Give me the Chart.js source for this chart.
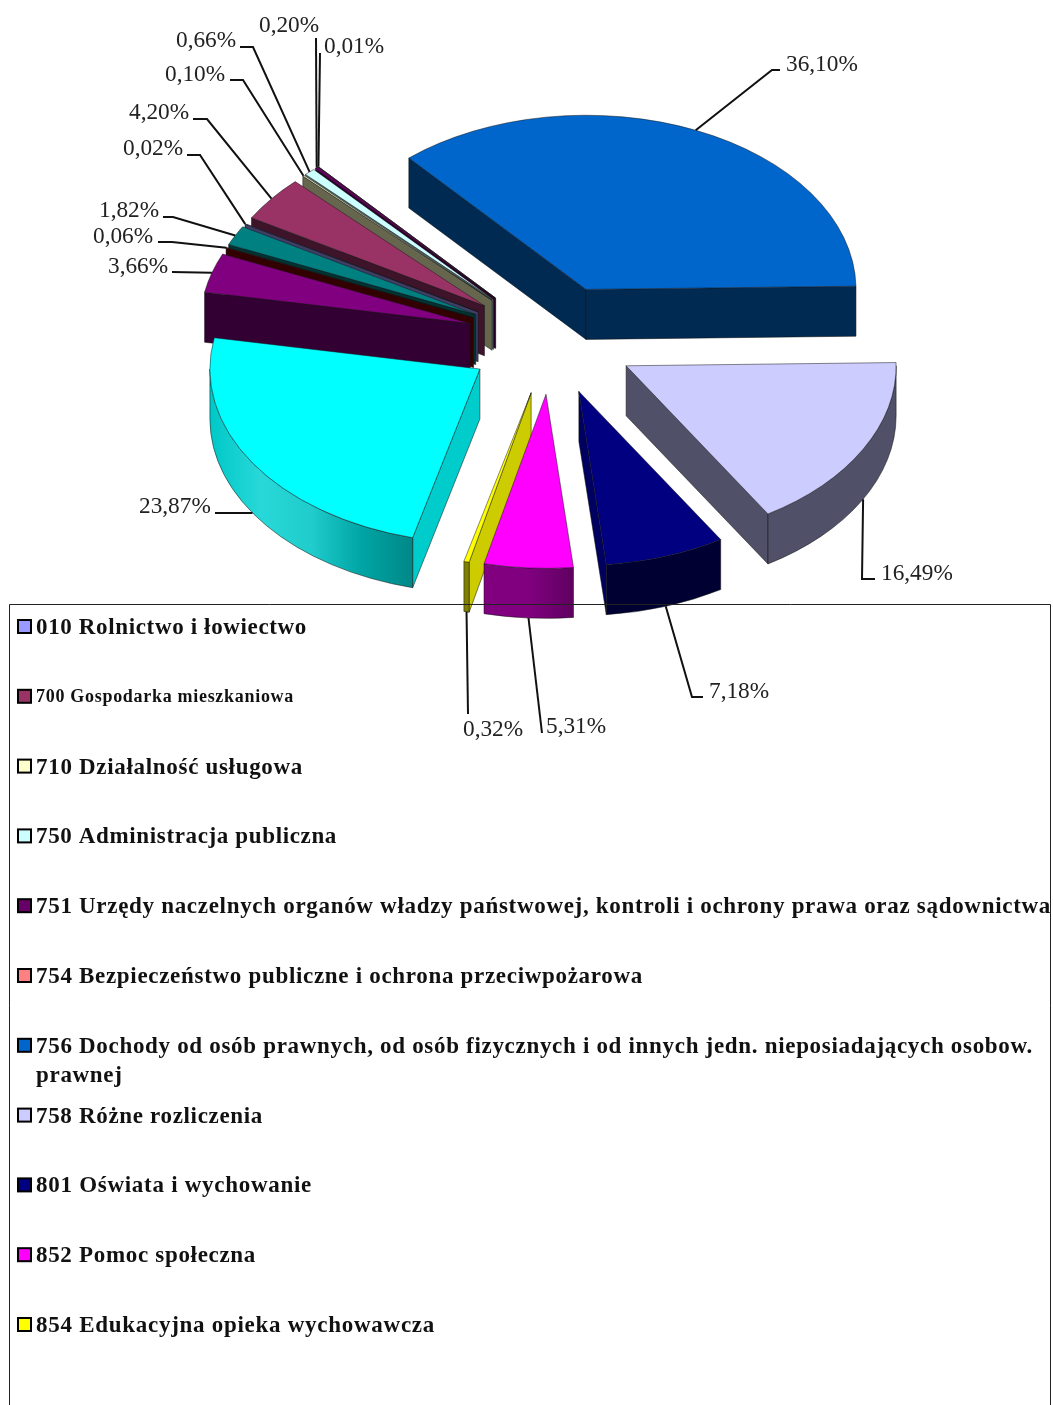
<!DOCTYPE html>
<html lang="pl">
<head>
<meta charset="utf-8">
<title>Struktura</title>
<style>html,body{margin:0;padding:0;background:#fff}canvas{display:block}</style>
<script src="https://cdn.jsdelivr.net/npm/chart.js@4"></script>
</head>
<body>
<canvas id="c" width="1053" height="1405"></canvas>
<script>
const categories = ['010 Rolnictwo i łowiectwo','700 Gospodarka mieszkaniowa','710 Działalność usługowa','750 Administracja publiczna','751 Urzędy naczelnych organów władzy państwowej, kontroli i ochrony prawa oraz sądownictwa','754 Bezpieczeństwo publiczne i ochrona przeciwpożarowa','756 Dochody od osób prawnych, od osób fizycznych i od innych jedn. nieposiadających osobow.\nprawnej','758 Różne rozliczenia','801 Oświata i wychowanie','852 Pomoc społeczna','854 Edukacyjna opieka wychowawcza','','','',''];
const values = [0.02,4.20,0.10,0.66,0.20,0.01,36.10,16.49,7.18,5.31,0.32,23.87,3.66,0.06,1.82];
const topColors = ['#9999FF','#993366','#FFFFCC','#CCFFFF','#660066','#FF8080','#0066CC','#CCCCFF','#000080','#FF00FF','#FFFF00','#00FFFF','#800080','#800000','#008080'];
const wallColors = ['#3d3d66','#3d1429','#66664f','#526666','#290029','#663333','#002a52','#505068','#000060','#600060','#cccc00','#00cccc','#330033','#330000','#003333'];
const rimColors = [['#3d3d66'],['#3d1429'],['#66664f'],['#526666'],['#290029'],['#663333'],['#002a52'],['#505068'],['#000033'],['#800080','#800080','#600060'],['#808000'],['#00c8c8','#28d8d8','#20cccc','#00a4a4','#008888'],['#330033'],['#330000'],['#003333']];

// Leader elbows and label anchors, in data order
const leaderLayout = [
  {pts:[[200,155],[187,155]],tx:123,ty:155},
  {pts:[[207,119],[193,119]],tx:129,ty:119},
  {pts:[[243,80],[230,80]],tx:165,ty:81},
  {pts:[[253,47],[240,47]],tx:176,ty:47},
  {pts:[[316,38]],tx:259,ty:32},
  {pts:[[320,53]],tx:324,ty:53},
  {pts:[[772,70],[780,70]],tx:786,ty:71},
  {pts:[[862,579],[875,579]],tx:881,ty:580},
  {pts:[[692,697],[703,697]],tx:709,ty:698},
  {pts:[[542,733]],tx:546,ty:733},
  {pts:[[468,714]],tx:463,ty:736},
  {pts:[[215,513]],tx:139,ty:513},
  {pts:[[172,272]],tx:108,ty:273},
  {pts:[[172,242],[158,242]],tx:93,ty:243},
  {pts:[[173,217],[163,217]],tx:99,ty:217}
];
const FLAT = 0.645, DEPTH = 50, EXPLODE = 85;
const legendFonts = [23,18,23,23,23,23,23,23,23,23,23];
const legendWidths = [271,258,267,301,1015,607,997,227,276,220,399];
const fmt = v => v.toFixed(2).replace('.', ',') + '%';

function geom(arc){
  const p = arc.getProps(['x','y','startAngle','endAngle','outerRadius'], true);
  const mid = (p.startAngle + p.endAngle) / 2;
  return {a:p.startAngle, b:p.endAngle, mid, r:p.outerRadius,
    ax:p.x + Math.cos(mid)*EXPLODE, ay:p.y + Math.sin(mid)*EXPLODE*FLAT, x:p.x, y:p.y};
}
function wall(ctx, g, ang, color){
  const ex = g.ax + Math.cos(ang)*g.r, ey = g.ay + Math.sin(ang)*g.r*FLAT;
  ctx.beginPath(); ctx.moveTo(g.ax,g.ay); ctx.lineTo(ex,ey); ctx.lineTo(ex,ey+DEPTH); ctx.lineTo(g.ax,g.ay+DEPTH); ctx.closePath();
  ctx.fillStyle = color; ctx.fill(); ctx.stroke();
}
function rim(ctx, g, colors){
  let a = g.a, b = g.b;
  const k = Math.floor(a/(2*Math.PI));
  a -= k*2*Math.PI; b -= k*2*Math.PI;
  const segs = [[Math.max(a,0),Math.min(b,Math.PI)],[Math.max(a,2*Math.PI),Math.min(b,3*Math.PI)]];
  segs.forEach(([s,e])=>{
    if (e<=s) return;
    const x1=g.ax+Math.cos(e)*g.r, x2=g.ax+Math.cos(s)*g.r;
    ctx.beginPath();
    ctx.ellipse(g.ax,g.ay,g.r,g.r*FLAT,0,s,e);
    ctx.ellipse(g.ax,g.ay+DEPTH,g.r,g.r*FLAT,0,e,s,true);
    ctx.closePath();
    if (colors.length>1){
      const gr = ctx.createLinearGradient(x1,0,x2,0);
      colors.forEach((c,i)=>gr.addColorStop(i/(colors.length-1),c));
      ctx.fillStyle = gr;
    } else ctx.fillStyle = colors[0];
    ctx.fill(); ctx.stroke();
  });
}

const pie3d = {
  id:'pie3d',
  beforeDraw(chart){
    const ctx = chart.ctx;
    ctx.save();
    ctx.fillStyle='#fff'; ctx.fillRect(0,0,chart.width,chart.height);
    ctx.textBaseline='middle';
    categories.forEach((name,i)=>{
      if(!name) return;
      const cy = 626 + i*69.8;
      ctx.fillStyle = topColors[i]; ctx.strokeStyle='#000'; ctx.lineWidth=2;
      ctx.fillRect(18,cy-6,13,13); ctx.strokeRect(18,cy-6,13,13);
      ctx.fillStyle='#111';
      ctx.font = 'bold '+legendFonts[i]+'px "Liberation Serif"';
      const lines = name.split('\n');
      ctx.letterSpacing = '0px';
      const sp = (legendWidths[i]-ctx.measureText(lines[0]).width)/lines[0].length;
      ctx.letterSpacing = sp.toFixed(3)+'px';
      lines.forEach((ln,j)=>ctx.fillText(ln,36,cy+2+j*29));
    });
    ctx.restore();
  },
  beforeDatasetDraw(chart,args){
    const ctx = chart.ctx, meta = args.meta;
    const order = meta.data.map((arc,i)=>{const g=geom(arc);return {arc,i,g,key:g.ay+0.5*g.r*Math.sin(g.mid)*FLAT};}).sort((p,q)=>p.key-q.key);
    order.forEach(({arc,i,g})=>{
      ctx.save();
      ctx.lineWidth=0.7; ctx.strokeStyle='rgba(20,20,20,.75)'; ctx.lineJoin='round';
      if (Math.cos(g.a)<0) wall(ctx,g,g.a,wallColors[i]);
      if (Math.cos(g.b)>0) wall(ctx,g,g.b,wallColors[i]);
      rim(ctx,g,rimColors[i]);
      ctx.restore();
      ctx.save();
      ctx.translate(g.ax,g.ay); ctx.scale(1,FLAT); ctx.translate(-g.x,-g.y);
      arc.draw(ctx);
      ctx.restore();
    });
    return false;
  },
  afterDatasetsDraw(chart){
    const ctx = chart.ctx, arcs = chart.getDatasetMeta(0).data;
    ctx.save();
    ctx.strokeStyle='#222'; ctx.lineWidth=1;
    ctx.beginPath(); ctx.moveTo(9.5,1410); ctx.lineTo(9.5,604.5); ctx.lineTo(1050.5,604.5); ctx.lineTo(1050.5,1410); ctx.stroke();
    ctx.fillStyle='#222'; ctx.textBaseline='alphabetic'; ctx.textAlign='left';
    ctx.font='23.3px "Liberation Serif"';
    arcs.forEach((arc,i)=>{
      const g=geom(arc), L=leaderLayout[i], s=Math.sin(g.mid);
      const sx=g.ax+Math.cos(g.mid)*g.r, sy=g.ay+s*g.r*FLAT+(s>0?DEPTH:0);
      ctx.strokeStyle='#111'; ctx.lineWidth=2; ctx.lineJoin='miter';
      ctx.beginPath(); ctx.moveTo(sx,sy); L.pts.forEach(p=>ctx.lineTo(p[0],p[1])); ctx.stroke();
      ctx.fillText(fmt(values[i]),L.tx,L.ty);
    });
    ctx.restore();
  }
};

new Chart(document.getElementById('c'),{
  type:'pie',
  data:{labels:categories,datasets:[{data:values,backgroundColor:topColors,borderColor:'rgba(20,20,20,.75)',borderWidth:0.8,radius:270}]},
  options:{
    responsive:false,animation:false,events:[],
    rotation:-59.7,
    layout:{padding:{left:50,right:0,top:0,bottom:726}},
    plugins:{legend:{display:false},tooltip:{enabled:false},title:{display:false}}
  },
  plugins:[pie3d]
});
</script>
</body>
</html>
